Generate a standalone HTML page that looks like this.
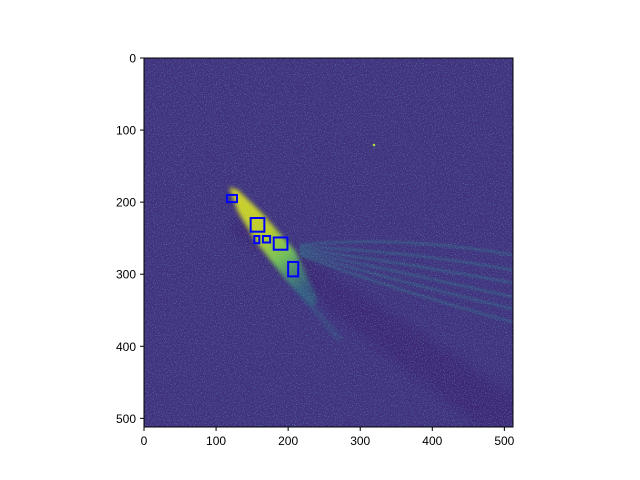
<!DOCTYPE html>
<html><head><meta charset="utf-8"><style>
body{margin:0;background:#fff}
svg{display:block;font-family:"Liberation Sans","DejaVu Sans",sans-serif}
</style></head><body>
<svg width="640" height="480" viewBox="0 0 640 480">
<defs>
<filter id="noise" x="0" y="0" width="100%" height="100%">
<feTurbulence type="fractalNoise" baseFrequency="0.9" numOctaves="2" seed="3" result="t"/>
<feColorMatrix in="t" type="matrix" values="0 0 0 0 0.16  0 0 0 0 0.5  0 0 0 0 0.55  0 0 0 1.6 -0.8"/>
</filter>
<filter id="blur"><feGaussianBlur stdDeviation="4"/></filter>
<filter id="blur1"><feGaussianBlur stdDeviation="2"/></filter>
<filter id="blur2"><feGaussianBlur stdDeviation="1"/></filter>
<clipPath id="clip"><rect x="144" y="58" width="369" height="369"/></clipPath>
<linearGradient id="streak" x1="0" y1="0" x2="0.6" y2="1">
<stop offset="0" stop-color="#e8e419"/><stop offset="0.45" stop-color="#d0e11c"/><stop offset="0.7" stop-color="#7ad151"/><stop offset="1" stop-color="#2a8a85" stop-opacity="0.5"/>
</linearGradient>
</defs>
<g clip-path="url(#clip)">
<rect x="144" y="58" width="369" height="369" fill="#40307e"/>
<path d="M240,215 L513,395 L513,427 L480,427 L230,230Z" fill="#3a1868" opacity="0.35" filter="url(#blur)"/>
<g stroke="#2f8a8c" stroke-width="2" fill="none" opacity="0.45" filter="url(#blur2)">
<path d="M300,245 Q400,235 513,255"/>
<path d="M300,247 Q400,250 513,270"/>
<path d="M300,249 Q400,262 513,283"/>
<path d="M300,251 Q400,272 513,297"/>
<path d="M300,253 Q400,282 513,309"/>
<path d="M300,255 Q400,292 513,322"/>
</g>
<path d="M290,280 L340,340" stroke="#2f7f8c" stroke-width="5" opacity="0.3" filter="url(#blur1)"/>
<path d="M229,187 L238,190 L262,213 L296,252 L318,300 L312,306 L286,280 L256,242 L238,212Z" fill="url(#streak)" filter="url(#blur1)" opacity="0.9"/>
<circle cx="374" cy="145" r="1.3" fill="#b5de2b"/>
<rect x="144" y="58" width="369" height="369" filter="url(#noise)" opacity="0.85"/>
<g id="boxes"></g>
</g>
<rect x="144" y="58" width="369" height="369" fill="none" stroke="#000" stroke-width="1"/>
<g id="ticks" font-size="12" fill="#000"></g>
</svg>
<script>
const boxX0=[115,148,153,165,180,200];
const boxX1=[129,167,160,175,199,214];
const boxY0=[190,222,247,247,249,283];
const boxY1=[200,241,257,256,266,303];
const xTicks=[0,100,200,300,400,500];
const yTicks=[0,100,200,300,400,500];
const S=369/512, X0=144, Y0=58;
const sx=v=>X0+v*S, sy=v=>Y0+v*S;
const ns="http://www.w3.org/2000/svg";
const bg=document.getElementById('boxes');
for(let i=0;i<boxX0.length;i++){
  const r=document.createElementNS(ns,'rect');
  
  
  r.setAttribute('x',sx(boxX0[i]));r.setAttribute('y',sy(boxY0[i]));
  r.setAttribute('width',(boxX1[i]-boxX0[i])*S);r.setAttribute('height',(boxY1[i]-boxY0[i])*S);
  r.setAttribute('fill','none');r.setAttribute('stroke','#0000ff');r.setAttribute('stroke-width','2');
  bg.appendChild(r);
}
const tg=document.getElementById('ticks');
xTicks.forEach(v=>{
  const l=document.createElementNS(ns,'line');
  
  
  l.setAttribute('x1',sx(v));l.setAttribute('x2',sx(v));l.setAttribute('y1',427);l.setAttribute('y2',431);l.setAttribute('stroke','#000');
  tg.appendChild(l);
  const t=document.createElementNS(ns,'text');
  
  
  t.setAttribute('x',sx(v));t.setAttribute('y',445);t.setAttribute('text-anchor','middle');t.textContent=v;
  tg.appendChild(t);
});
yTicks.forEach(v=>{
  const l=document.createElementNS(ns,'line');
  
  
  l.setAttribute('x1',140);l.setAttribute('x2',144);l.setAttribute('y1',sy(v));l.setAttribute('y2',sy(v));l.setAttribute('stroke','#000');
  tg.appendChild(l);
  const t=document.createElementNS(ns,'text');
  
  
  t.setAttribute('x',136);t.setAttribute('y',sy(v)+4.5);t.setAttribute('text-anchor','end');t.textContent=v;
  tg.appendChild(t);
});
</script>
</body></html>
